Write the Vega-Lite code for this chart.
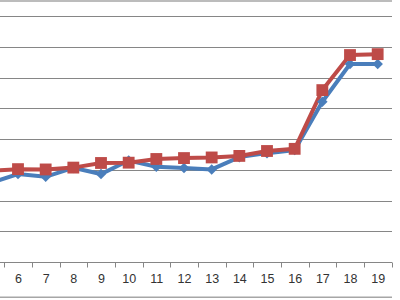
{
  "$schema": "https://vega.github.io/schema/vega-lite/v6.json",
  "width": 392,
  "height": 246,
  "autosize": {"type": "none"},
  "padding": {"left": 0, "top": 16, "right": 8, "bottom": 38},
  "background": "white",
  "config": {"view": {"stroke": null}},
  "datasets": {
    "series": [
      {"cat": 5, "series": "A", "value": 25.7},
      {"cat": 6, "series": "A", "value": 28.6},
      {"cat": 7, "series": "A", "value": 27.7},
      {"cat": 8, "series": "A", "value": 30.6},
      {"cat": 9, "series": "A", "value": 28.6},
      {"cat": 10, "series": "A", "value": 33.0},
      {"cat": 11, "series": "A", "value": 31.0},
      {"cat": 12, "series": "A", "value": 30.6},
      {"cat": 13, "series": "A", "value": 30.1},
      {"cat": 14, "series": "A", "value": 34.1},
      {"cat": 15, "series": "A", "value": 35.4},
      {"cat": 16, "series": "A", "value": 36.4},
      {"cat": 17, "series": "A", "value": 52.1},
      {"cat": 18, "series": "A", "value": 64.4},
      {"cat": 19, "series": "A", "value": 64.4},
      {"cat": 5, "series": "B", "value": 29.6},
      {"cat": 6, "series": "B", "value": 30.2},
      {"cat": 7, "series": "B", "value": 30.1},
      {"cat": 8, "series": "B", "value": 30.7},
      {"cat": 9, "series": "B", "value": 32.2},
      {"cat": 10, "series": "B", "value": 32.3},
      {"cat": 11, "series": "B", "value": 33.5},
      {"cat": 12, "series": "B", "value": 33.8},
      {"cat": 13, "series": "B", "value": 34.0},
      {"cat": 14, "series": "B", "value": 34.5},
      {"cat": 15, "series": "B", "value": 36.1},
      {"cat": 16, "series": "B", "value": 36.8},
      {"cat": 17, "series": "B", "value": 55.9},
      {"cat": 18, "series": "B", "value": 67.3},
      {"cat": 19, "series": "B", "value": 67.6}
    ],
    "frame": [
      {"value": 84.9},
      {"value": -11.5}
    ]
  },
  "encoding": {
    "y": {
      "field": "value",
      "type": "quantitative",
      "scale": {"domain": [0, 80], "nice": false, "zero": false},
      "axis": {
        "title": null,
        "values": [0, 10, 20, 30, 40, 50, 60, 70, 80],
        "grid": true,
        "gridColor": "#868686",
        "gridWidth": 1,
        "labels": false,
        "ticks": false,
        "domain": false
      }
    }
  },
  "layer": [
    {
      "data": {"name": "frame"},
      "mark": {"type": "rule", "clip": false, "color": "#A6A6A6", "strokeWidth": 1.5}
    },
    {
      "data": {"name": "series"},
      "encoding": {
        "x": {
          "field": "cat",
          "type": "ordinal",
          "bandPosition": 0.5,
          "scale": {"type": "band", "range": [-23.5, 391.5], "paddingInner": 0, "paddingOuter": 0},
          "axis": {
            "title": null,
            "labelAngle": 0,
            "tickBand": "extent",
            "grid": false,
            "domainColor": "#868686",
            "domainWidth": 1,
            "tickColor": "#868686",
            "tickSize": 5,
            "labelPadding": 5,
            "labelExpr": "datum.value == 5 ? '' : datum.label",
            "labelFont": "Liberation Sans",
            "labelFontSize": 12.5,
            "labelColor": "#333333"
          }
        },
        "color": {
          "field": "series",
          "type": "nominal",
          "scale": {"domain": ["A", "B"], "range": ["#4A7EBB", "#BE4B48"]},
          "legend": null
        }
      },
      "layer": [
        {"mark": {"type": "line", "strokeWidth": 4}},
        {
          "mark": {"type": "point", "filled": true, "opacity": 1},
          "encoding": {
            "shape": {
              "field": "series",
              "type": "nominal",
              "scale": {"domain": ["A", "B"], "range": ["diamond", "square"]},
              "legend": null
            },
            "size": {
              "field": "series",
              "type": "nominal",
              "scale": {"domain": ["A", "B"], "range": [110, 140]},
              "legend": null
            }
          }
        }
      ]
    }
  ]
}
